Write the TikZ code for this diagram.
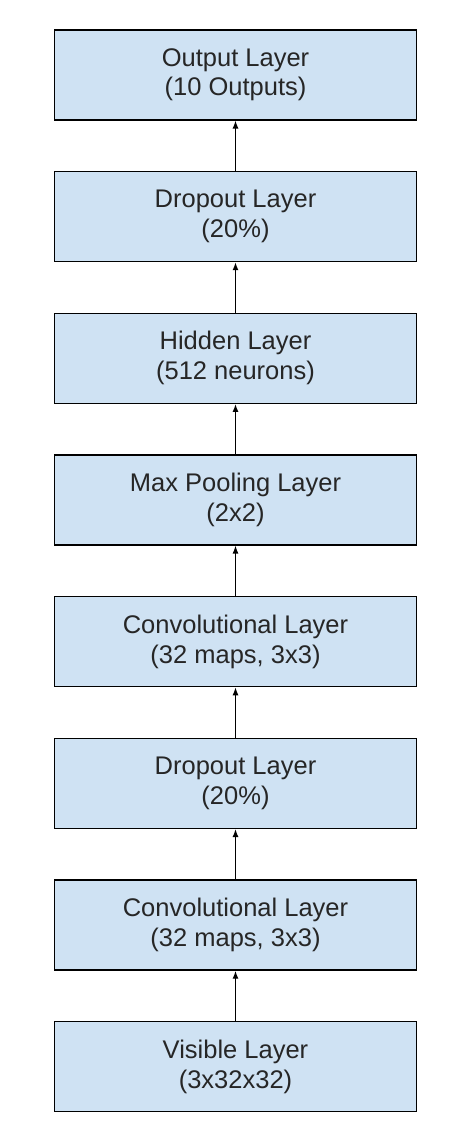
\documentclass[tikz,border=0pt]{standalone}
\usepackage{fontspec}
\setmainfont{Liberation Sans}
\usetikzlibrary{positioning,arrows.meta}
\definecolor{layerblue}{HTML}{CFE2F3}
\definecolor{layertext}{HTML}{262626}

\begin{document}
\begin{tikzpicture}[x=1pt,y=1pt]
\tikzstyle{layer}=[rectangle,draw=black,line width=1.4pt,fill=layerblue,text=layertext,minimum width=361.5pt,minimum height=90pt,align=center,font=\fontsize{25.5}{29.7}\selectfont]
\tikzstyle{every node}=[layer]
\tikzstyle{up}=[-{Latex[length=8pt,width=6pt]},line width=1.3pt]
\useasboundingbox (0,0) rectangle (464,-1146);
\node (visible) at (235.5,-1066.7) {Visible Layer\\(3x32x32)};
\node[above=50.3pt of visible] (conv1) {Convolutional Layer\\(32 maps, 3x3)};
\node[above=50.3pt of conv1] (drop1) {Dropout Layer\\(20\%)};
\node[above=50.3pt of drop1] (conv2) {Convolutional Layer\\(32 maps, 3x3)};
\node[above=50.3pt of conv2] (pool) {Max Pooling Layer\\(2x2)};
\node[above=50.3pt of pool] (hidden) {Hidden Layer\\(512 neurons)};
\node[above=50.3pt of hidden] (drop2) {Dropout Layer\\(20\%)};
\node[above=50.3pt of drop2] (output) {Output Layer\\(10 Outputs)};
\draw[up] (visible) -- (conv1);
\draw[up] (conv1) -- (drop1);
\draw[up] (drop1) -- (conv2);
\draw[up] (conv2) -- (pool);
\draw[up] (pool) -- (hidden);
\draw[up] (hidden) -- (drop2);
\draw[up] (drop2) -- (output);
\end{tikzpicture}
\end{document}
